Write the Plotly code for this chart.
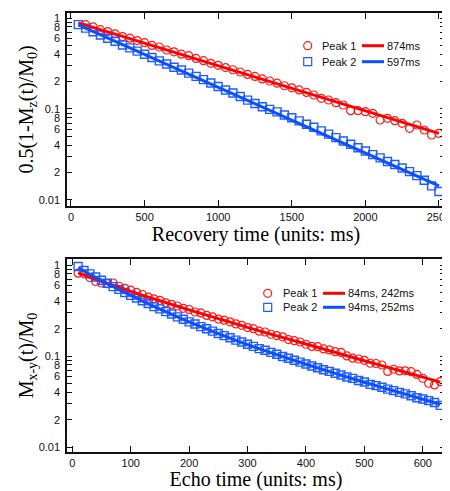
import plotly.graph_objects as go

# ---------------- data: top panel (T1 recovery) ----------------
t1_peak1 = [100, 150, 200, 250, 300, 350, 400, 450, 500, 550, 600, 650, 700, 750, 800, 850,
            900, 950, 1000, 1050, 1100, 1150, 1200, 1250, 1300, 1350, 1400, 1450, 1500, 1550,
            1600, 1650, 1700, 1750, 1800, 1850, 1900, 1950, 2000, 2050, 2100, 2150, 2200, 2250,
            2300, 2350, 2400, 2450, 2500]
y1_peak1 = [0.845, 0.80, 0.745, 0.71, 0.67, 0.625, 0.60, 0.565, 0.535, 0.50, 0.48, 0.445, 0.425,
            0.40, 0.385, 0.36, 0.34, 0.318, 0.302, 0.285, 0.27, 0.255, 0.24, 0.228, 0.214, 0.203,
            0.192, 0.180, 0.171, 0.162, 0.152, 0.1425, 0.131, 0.1256, 0.1174, 0.1106, 0.0959,
            0.0959, 0.0935, 0.0896, 0.0757, 0.0789, 0.0744, 0.0695, 0.0613, 0.0667, 0.0588,
            0.0518, 0.054]
t1_peak2 = [50, 100, 150, 200, 250, 300, 350, 400, 450, 500, 550, 600, 650, 700, 750, 800, 850,
            900, 950, 1000, 1050, 1100, 1150, 1200, 1250, 1300, 1350, 1400, 1450, 1500, 1550,
            1600, 1650, 1700, 1750, 1800, 1850, 1900, 1950, 2000, 2050, 2100, 2150, 2200, 2250,
            2300, 2350, 2400, 2450, 2500]
y1_peak2 = [0.845, 0.775, 0.705, 0.650, 0.60, 0.555, 0.505, 0.470, 0.432, 0.400, 0.368, 0.338,
            0.312, 0.288, 0.268, 0.248, 0.228, 0.210, 0.193, 0.177, 0.162, 0.150, 0.137, 0.125,
            0.115, 0.106, 0.099, 0.093, 0.086, 0.080, 0.074, 0.068, 0.063, 0.0575, 0.053,
            0.0485, 0.0445, 0.0410, 0.0375, 0.0345, 0.0315, 0.0290, 0.0265, 0.0245, 0.0225,
            0.0205, 0.0185, 0.0165, 0.0143, 0.0124]
fit1_t = [50, 2500]
fit1_peak1 = [0.885, 0.054]
fit1_peak2 = [0.84, 0.0143]

# ---------------- data: bottom panel (echo decay) ----------------
t2 = list(range(10, 631, 10))
y2_peak1 = [0.815, 0.80, 0.73, 0.66, 0.635, 0.625, 0.635, 0.585, 0.555, 0.53, 0.50, 0.475, 0.445,
            0.425, 0.41, 0.385, 0.37, 0.355, 0.335, 0.325, 0.305, 0.298, 0.28, 0.27, 0.255,
            0.248, 0.238, 0.226, 0.218, 0.206, 0.20, 0.188, 0.184, 0.174, 0.168, 0.163, 0.152,
            0.148, 0.143, 0.135, 0.128, 0.127, 0.12, 0.117, 0.112, 0.110, 0.1005, 0.095, 0.093,
            0.090, 0.0836, 0.083, 0.080, 0.068, 0.0718, 0.0689, 0.069, 0.0676, 0.063, 0.0572,
            0.0504, 0.0483, 0.0526]
y2_peak2 = [0.965, 0.87, 0.80, 0.74, 0.68, 0.63, 0.58, 0.54, 0.50, 0.465, 0.435, 0.405, 0.378,
            0.350, 0.330, 0.308, 0.290, 0.270, 0.254, 0.238, 0.225, 0.211, 0.200, 0.188, 0.177,
            0.168, 0.159, 0.150, 0.143, 0.135, 0.128, 0.121, 0.116, 0.110, 0.105, 0.099, 0.095,
            0.090, 0.086, 0.082, 0.078, 0.0745, 0.071, 0.068, 0.065, 0.062, 0.059, 0.057, 0.054,
            0.052, 0.049, 0.0475, 0.0455, 0.0435, 0.0418, 0.040, 0.0385, 0.0368, 0.035, 0.0338,
            0.0325, 0.031, 0.0288]
fit2_t = [10, 25, 50, 75, 100, 150, 200, 250, 300, 350, 400, 450, 500, 550, 600, 630]
fit2_peak1 = [0.820, 0.755, 0.661, 0.582, 0.514, 0.405, 0.322, 0.258, 0.207, 0.167, 0.136, 0.110,
              0.089, 0.0724, 0.0588, 0.0519]
fit2_peak2 = [0.930, 0.823, 0.675, 0.558, 0.464, 0.328, 0.238, 0.177, 0.134, 0.104, 0.0815,
              0.0647, 0.0517, 0.0417, 0.0337, 0.0297]

legend_top = [("Peak 1", "874ms"), ("Peak 2", "597ms")]
legend_bot = [("Peak 1", "84ms, 242ms"), ("Peak 2", "94ms, 252ms")]

y_tickvals = [0.01, 0.02, 0.04, 0.06, 0.08, 0.1, 0.2, 0.4, 0.6, 0.8, 1]
y_ticktext = ["0.01", "2", "4", "6", "8", "0.1", "2", "4", "6", "8", "1"]
y_minor = [0.03, 0.05, 0.07, 0.09, 0.3, 0.5, 0.7, 0.9]

RED = "#ff1a1a"
BLUE = "#1f5cff"
RED_L = "#ff0000"
BLUE_L = "#0a50ff"

fig = go.Figure()

def add_panel(xa, ya, tA, yA, tB, yB, ft, fA, fB):
    fig.add_trace(go.Scatter(x=tA, y=yA, mode="markers", xaxis=xa, yaxis=ya, showlegend=False,
                             marker=dict(symbol="circle-open", size=8, color=RED,
                                         line=dict(width=1.2, color=RED))))
    fig.add_trace(go.Scatter(x=tB, y=yB, mode="markers", xaxis=xa, yaxis=ya, showlegend=False,
                             marker=dict(symbol="square-open", size=8, color=BLUE,
                                         line=dict(width=1.4, color=BLUE))))
    fig.add_trace(go.Scatter(x=ft, y=fA, mode="lines", xaxis=xa, yaxis=ya, showlegend=False,
                             line=dict(color=RED_L, width=3, shape="spline")))
    fig.add_trace(go.Scatter(x=ft, y=fB, mode="lines", xaxis=xa, yaxis=ya, showlegend=False,
                             line=dict(color=BLUE_L, width=3, shape="spline")))

add_panel("x", "y", t1_peak1, y1_peak1, t1_peak2, y1_peak2, fit1_t, fit1_peak1, fit1_peak2)
add_panel("x2", "y2", t2, y2_peak1, t2, y2_peak2, fit2_t, fit2_peak1, fit2_peak2)

tickfont = dict(family="Liberation Sans, Arial, sans-serif", size=11, color="#111")
titlefont = dict(family="Liberation Serif, Times New Roman, serif", size=20, color="#000")

def xaxis(anchor, rng, dtick, title, standoff):
    return dict(anchor=anchor, domain=[0, 1], range=rng, dtick=dtick, tick0=0,
                showline=True, linecolor="#111", linewidth=1.5, mirror="ticks",
                ticks="inside", ticklen=6, tickwidth=1.2, tickcolor="#111",
                showgrid=False, zeroline=False, tickfont=tickfont, automargin=False,
                ticklabeloverflow="allow",
                title=dict(text=title, font=titlefont, standoff=standoff))

def yaxis(anchor, domain, rng, title):
    return dict(anchor=anchor, domain=domain, type="log", range=rng,
                tickmode="array", tickvals=y_tickvals, ticktext=y_ticktext,
                showline=True, linecolor="#111", linewidth=1.5, mirror="ticks",
                ticks="inside", ticklen=5, tickwidth=1.2, tickcolor="#111",
                minor=dict(tickvals=y_minor, ticks="inside", ticklen=5, tickwidth=1.2,
                           tickcolor="#111"),
                showgrid=False, zeroline=False, tickfont=tickfont, automargin=False,
                ticklabelstandoff=3,
                title=dict(text=title, font=titlefont, standoff=0))

def overlay(base, anchor, rng):
    return dict(overlaying=base, anchor=anchor, side="left", type="log", range=rng,
                tickmode="array", tickvals=[0.01, 0.1, 1], showticklabels=False,
                ticks="inside", ticklen=10, tickwidth=1.2, tickcolor="#111",
                showline=True, linecolor="#111", linewidth=1.5, mirror="ticks",
                showgrid=False, zeroline=False, automargin=False)

top_dom = [0.5604, 1.0]
bot_dom = [0.0, 0.4396]
top_yr = [-2.066, 0.055]
bot_yr = [-2.052, 0.066]

# the page body adds an 8px offset, so the figure is 8px smaller and margins shifted
fig.update_layout(
    width=442, height=483,
    margin=dict(l=59, r=5, t=5, b=39),
    paper_bgcolor="white", plot_bgcolor="white",
    showlegend=False,
    xaxis=xaxis("y", [-27, 2541], 500, "Recovery time (units: ms)", 2),
    yaxis=yaxis("x", top_dom, top_yr, "0.5(1-M<sub>z</sub>(t)/M<sub>0</sub>)"),
    xaxis2=xaxis("y2", [-9, 638], 100, "Echo time (units: ms)", 9),
    yaxis2=yaxis("x2", bot_dom, bot_yr, "M<sub>x-y</sub>(t)/M<sub>0</sub>"),
    yaxis3=overlay("y", "x", top_yr),
    yaxis4=overlay("y2", "x2", bot_yr),
)

# ---------------- legend keys (paper coords, from screen pixels) ----------------
W, H = 378.0, 439.0
def px(xp):
    return (xp - 67) / W
def py(yp):
    return (452 - yp) / H

legfont = dict(family="Liberation Sans, Arial, sans-serif", size=11, color="#111")

def draw_legend(rows, sym_x, text_x, line_x0, line_x1, val_x, row_y):
    for i, ((name, val), yy) in enumerate(zip(rows, row_y)):
        color = RED if i == 0 else BLUE
        lcol = RED_L if i == 0 else BLUE_L
        fig.add_shape(type="circle" if i == 0 else "rect", xref="paper", yref="paper",
                      xsizemode="pixel", ysizemode="pixel", xanchor=px(sym_x), yanchor=py(yy),
                      x0=-4, x1=4, y0=-4, y1=4, line=dict(color=color, width=1.2))
        fig.add_shape(type="line", xref="paper", yref="paper",
                      x0=px(line_x0), x1=px(line_x1), y0=py(yy), y1=py(yy),
                      line=dict(color=lcol, width=3))
        fig.add_annotation(x=px(text_x), y=py(yy), xref="paper", yref="paper", text=name,
                           showarrow=False, xanchor="left", yanchor="middle", font=legfont)
        fig.add_annotation(x=px(val_x), y=py(yy), xref="paper", yref="paper", text=val,
                           showarrow=False, xanchor="left", yanchor="middle", font=legfont)

draw_legend(legend_top, 307.7, 320, 362, 384, 385, [45.7, 61.7])
draw_legend(legend_bot, 267.7, 281, 323, 345, 346, [293.3, 307.3])

fig.write_html("out.html")
